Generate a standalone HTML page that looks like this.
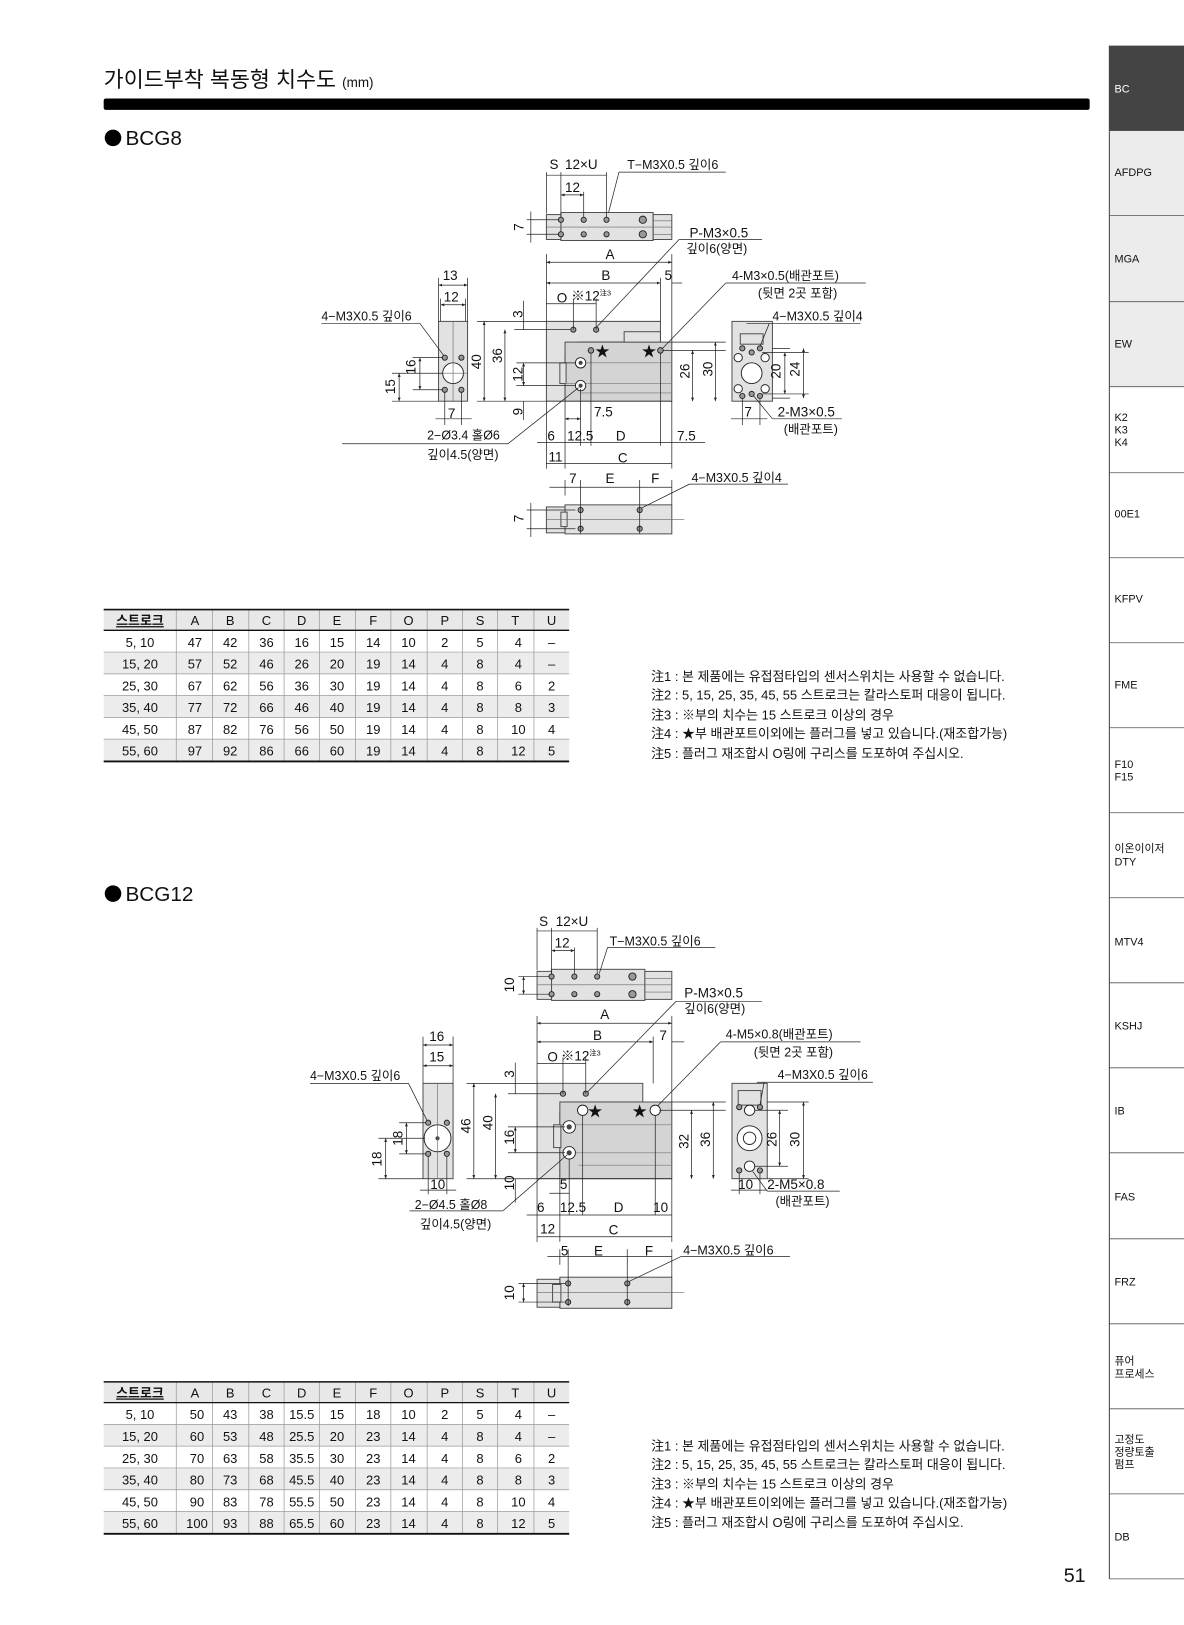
<!DOCTYPE html>
<html><head><meta charset="utf-8"><style>
html,body{margin:0;padding:0;background:#fff}
svg{display:block}
text{font-family:"Liberation Sans","Noto Sans CJK KR",sans-serif;fill:#111}
.t{font-size:13px}
.s{font-size:12px}
.d{stroke:#222;stroke-width:0.7;fill:none}
.b{fill:#e2e2e2;stroke:#444;stroke-width:0.9}
.b2{fill:#d4d4d4;stroke:#444;stroke-width:0.9}
.h{fill:#999;stroke:#222;stroke-width:0.9}
.hw{fill:#fff;stroke:#222;stroke-width:0.9}
.tb{font-size:12.5px;text-anchor:middle}
.sb{font-size:10.5px}
</style></head><body>
<svg width="1184" height="1625" viewBox="0 0 1142 1567.5" preserveAspectRatio="none" xmlns="http://www.w3.org/2000/svg">
<defs>
<marker id="a" viewBox="0 0 10 10" refX="10" refY="5" markerWidth="5" markerHeight="5" orient="auto-start-reverse"><path d="M0,1 L10,5 L0,9 z" fill="#222"/></marker>
</defs>

<!-- Header -->
<text x="100" y="84" style="font-size:21px">가이드부착 복동형 치수도 <tspan style="font-size:13px">(mm)</tspan></text>
<rect x="100" y="95" width="951" height="11" rx="2" fill="#000"/>
<circle cx="109" cy="133" r="8" fill="#000"/>
<text x="121" y="140" style="font-size:20px">BCG8</text>
<circle cx="109" cy="862" r="8" fill="#000"/>
<text x="121" y="869" style="font-size:20px">BCG12</text>

<!-- Sidebar -->
<g>
<rect x="1070" y="44" width="72" height="82" fill="#444"/>
<rect x="1070" y="126" width="72" height="247" fill="#ececec"/>
<line x1="1070" y1="44" x2="1070" y2="1523" stroke="#444" stroke-width="1"/>
<g stroke="#555" stroke-width="0.8">
<line x1="1070" y1="126" x2="1142" y2="126"/><line x1="1070" y1="208" x2="1142" y2="208"/><line x1="1070" y1="291" x2="1142" y2="291"/><line x1="1070" y1="373" x2="1142" y2="373"/><line x1="1070" y1="456" x2="1142" y2="456"/><line x1="1070" y1="538" x2="1142" y2="538"/><line x1="1070" y1="620" x2="1142" y2="620"/><line x1="1070" y1="702" x2="1142" y2="702"/><line x1="1070" y1="784" x2="1142" y2="784"/><line x1="1070" y1="866" x2="1142" y2="866"/><line x1="1070" y1="948" x2="1142" y2="948"/><line x1="1070" y1="1030" x2="1142" y2="1030"/><line x1="1070" y1="1112" x2="1142" y2="1112"/><line x1="1070" y1="1195" x2="1142" y2="1195"/><line x1="1070" y1="1277" x2="1142" y2="1277"/><line x1="1070" y1="1359" x2="1142" y2="1359"/><line x1="1070" y1="1441" x2="1142" y2="1441"/><line x1="1070" y1="1523" x2="1142" y2="1523"/>
</g>
<g class="sb">
<text x="1075" y="89" style="fill:#fff;font-size:10.5px">BC</text>
<text x="1075" y="170" class="sb">AFDPG</text>
<text x="1075" y="253" class="sb">MGA</text>
<text x="1075" y="335" class="sb">EW</text>
<text x="1075" y="406" class="sb">K2</text><text x="1075" y="418" class="sb">K3</text><text x="1075" y="430" class="sb">K4</text>
<text x="1075" y="499" class="sb">00E1</text>
<text x="1075" y="581" class="sb">KFPV</text>
<text x="1075" y="664" class="sb">FME</text>
<text x="1075" y="741" class="sb">F10</text><text x="1075" y="753" class="sb">F15</text>
<text x="1075" y="822" class="sb">이온이이저</text><text x="1075" y="835" class="sb">DTY</text>
<text x="1075" y="912" class="sb">MTV4</text>
<text x="1075" y="993" class="sb">KSHJ</text>
<text x="1075" y="1075" class="sb">IB</text>
<text x="1075" y="1158" class="sb">FAS</text>
<text x="1075" y="1240" class="sb">FRZ</text>
<text x="1075" y="1316" class="sb">퓨어</text><text x="1075" y="1329" class="sb">프로세스</text>
<text x="1075" y="1392" class="sb">고정도</text><text x="1075" y="1404" class="sb">정량토출</text><text x="1075" y="1416" class="sb">펌프</text>
<text x="1075" y="1486" class="sb">DB</text>
</g>
</g>
<text x="1026" y="1526" style="font-size:19px">51</text>

<!-- TABLE 1 -->
<g id="tbl1">
<rect x="100" y="588" width="449" height="20" fill="#e8e8e8"/>
<rect x="100" y="629" width="449" height="21" fill="#ececec"/>
<rect x="100" y="671" width="449" height="21" fill="#ececec"/>
<rect x="100" y="713" width="449" height="21" fill="#ececec"/>
<g stroke="#999" stroke-width="0.7">
<line x1="170" y1="588" x2="170" y2="734"/><line x1="205" y1="588" x2="205" y2="734"/><line x1="240" y1="588" x2="240" y2="734"/><line x1="274" y1="588" x2="274" y2="734"/><line x1="308" y1="588" x2="308" y2="734"/><line x1="343" y1="588" x2="343" y2="734"/><line x1="377" y1="588" x2="377" y2="734"/><line x1="412" y1="588" x2="412" y2="734"/><line x1="446" y1="588" x2="446" y2="734"/><line x1="480" y1="588" x2="480" y2="734"/><line x1="515" y1="588" x2="515" y2="734"/>
<line x1="100" y1="629" x2="549" y2="629"/><line x1="100" y1="650" x2="549" y2="650"/><line x1="100" y1="671" x2="549" y2="671"/><line x1="100" y1="692" x2="549" y2="692"/><line x1="100" y1="713" x2="549" y2="713"/>
</g>
<line x1="100" y1="588" x2="549" y2="588" stroke="#111" stroke-width="1.5"/>
<line x1="100" y1="608" x2="549" y2="608" stroke="#111" stroke-width="1.3"/>
<line x1="100" y1="734.5" x2="549" y2="734.5" stroke="#111" stroke-width="1.8"/>
<g class="tb">
<text x="135" y="603" class="tb" style="text-decoration:underline;font-weight:bold">스트로크</text><text x="188" y="603" class="tb">A</text><text x="222" y="603" class="tb">B</text><text x="257" y="603" class="tb">C</text><text x="291" y="603" class="tb">D</text><text x="325" y="603" class="tb">E</text><text x="360" y="603" class="tb">F</text><text x="394" y="603" class="tb">O</text><text x="429" y="603" class="tb">P</text><text x="463" y="603" class="tb">S</text><text x="497" y="603" class="tb">T</text><text x="532" y="603" class="tb">U</text>
</g>
<g id="r1"></g>
</g>
<g class="tb">
<!-- rows table1 -->
<text x="135" y="624" class="tb">5, 10</text><text x="188" y="624" class="tb">47</text><text x="222" y="624" class="tb">42</text><text x="257" y="624" class="tb">36</text><text x="291" y="624" class="tb">16</text><text x="325" y="624" class="tb">15</text><text x="360" y="624" class="tb">14</text><text x="394" y="624" class="tb">10</text><text x="429" y="624" class="tb">2</text><text x="463" y="624" class="tb">5</text><text x="500" y="624" class="tb">4</text><text x="532" y="624" class="tb">–</text>
<text x="135" y="645" class="tb">15, 20</text><text x="188" y="645" class="tb">57</text><text x="222" y="645" class="tb">52</text><text x="257" y="645" class="tb">46</text><text x="291" y="645" class="tb">26</text><text x="325" y="645" class="tb">20</text><text x="360" y="645" class="tb">19</text><text x="394" y="645" class="tb">14</text><text x="429" y="645" class="tb">4</text><text x="463" y="645" class="tb">8</text><text x="500" y="645" class="tb">4</text><text x="532" y="645" class="tb">–</text>
<text x="135" y="666" class="tb">25, 30</text><text x="188" y="666" class="tb">67</text><text x="222" y="666" class="tb">62</text><text x="257" y="666" class="tb">56</text><text x="291" y="666" class="tb">36</text><text x="325" y="666" class="tb">30</text><text x="360" y="666" class="tb">19</text><text x="394" y="666" class="tb">14</text><text x="429" y="666" class="tb">4</text><text x="463" y="666" class="tb">8</text><text x="500" y="666" class="tb">6</text><text x="532" y="666" class="tb">2</text>
<text x="135" y="687" class="tb">35, 40</text><text x="188" y="687" class="tb">77</text><text x="222" y="687" class="tb">72</text><text x="257" y="687" class="tb">66</text><text x="291" y="687" class="tb">46</text><text x="325" y="687" class="tb">40</text><text x="360" y="687" class="tb">19</text><text x="394" y="687" class="tb">14</text><text x="429" y="687" class="tb">4</text><text x="463" y="687" class="tb">8</text><text x="500" y="687" class="tb">8</text><text x="532" y="687" class="tb">3</text>
<text x="135" y="708" class="tb">45, 50</text><text x="188" y="708" class="tb">87</text><text x="222" y="708" class="tb">82</text><text x="257" y="708" class="tb">76</text><text x="291" y="708" class="tb">56</text><text x="325" y="708" class="tb">50</text><text x="360" y="708" class="tb">19</text><text x="394" y="708" class="tb">14</text><text x="429" y="708" class="tb">4</text><text x="463" y="708" class="tb">8</text><text x="500" y="708" class="tb">10</text><text x="532" y="708" class="tb">4</text>
<text x="135" y="729" class="tb">55, 60</text><text x="188" y="729" class="tb">97</text><text x="222" y="729" class="tb">92</text><text x="257" y="729" class="tb">86</text><text x="291" y="729" class="tb">66</text><text x="325" y="729" class="tb">60</text><text x="360" y="729" class="tb">19</text><text x="394" y="729" class="tb">14</text><text x="429" y="729" class="tb">4</text><text x="463" y="729" class="tb">8</text><text x="500" y="729" class="tb">12</text><text x="532" y="729" class="tb">5</text>
</g>

<!-- TABLE 2 -->
<g transform="translate(0,745)">
<rect x="100" y="588" width="449" height="20" fill="#e8e8e8"/>
<rect x="100" y="629" width="449" height="21" fill="#ececec"/>
<rect x="100" y="671" width="449" height="21" fill="#ececec"/>
<rect x="100" y="713" width="449" height="21" fill="#ececec"/>
<g stroke="#999" stroke-width="0.7">
<line x1="170" y1="588" x2="170" y2="734"/><line x1="205" y1="588" x2="205" y2="734"/><line x1="240" y1="588" x2="240" y2="734"/><line x1="274" y1="588" x2="274" y2="734"/><line x1="308" y1="588" x2="308" y2="734"/><line x1="343" y1="588" x2="343" y2="734"/><line x1="377" y1="588" x2="377" y2="734"/><line x1="412" y1="588" x2="412" y2="734"/><line x1="446" y1="588" x2="446" y2="734"/><line x1="480" y1="588" x2="480" y2="734"/><line x1="515" y1="588" x2="515" y2="734"/>
<line x1="100" y1="629" x2="549" y2="629"/><line x1="100" y1="650" x2="549" y2="650"/><line x1="100" y1="671" x2="549" y2="671"/><line x1="100" y1="692" x2="549" y2="692"/><line x1="100" y1="713" x2="549" y2="713"/>
</g>
<line x1="100" y1="588" x2="549" y2="588" stroke="#111" stroke-width="1.5"/>
<line x1="100" y1="608" x2="549" y2="608" stroke="#111" stroke-width="1.3"/>
<line x1="100" y1="734.5" x2="549" y2="734.5" stroke="#111" stroke-width="1.8"/>
<text x="135" y="603" class="tb" style="text-decoration:underline;font-weight:bold">스트로크</text><text x="188" y="603" class="tb">A</text><text x="222" y="603" class="tb">B</text><text x="257" y="603" class="tb">C</text><text x="291" y="603" class="tb">D</text><text x="325" y="603" class="tb">E</text><text x="360" y="603" class="tb">F</text><text x="394" y="603" class="tb">O</text><text x="429" y="603" class="tb">P</text><text x="463" y="603" class="tb">S</text><text x="497" y="603" class="tb">T</text><text x="532" y="603" class="tb">U</text>
<text x="135" y="624" class="tb">5, 10</text><text x="190" y="624" class="tb">50</text><text x="222" y="624" class="tb">43</text><text x="257" y="624" class="tb">38</text><text x="291" y="624" class="tb">15.5</text><text x="325" y="624" class="tb">15</text><text x="360" y="624" class="tb">18</text><text x="394" y="624" class="tb">10</text><text x="429" y="624" class="tb">2</text><text x="463" y="624" class="tb">5</text><text x="500" y="624" class="tb">4</text><text x="532" y="624" class="tb">–</text>
<text x="135" y="645" class="tb">15, 20</text><text x="190" y="645" class="tb">60</text><text x="222" y="645" class="tb">53</text><text x="257" y="645" class="tb">48</text><text x="291" y="645" class="tb">25.5</text><text x="325" y="645" class="tb">20</text><text x="360" y="645" class="tb">23</text><text x="394" y="645" class="tb">14</text><text x="429" y="645" class="tb">4</text><text x="463" y="645" class="tb">8</text><text x="500" y="645" class="tb">4</text><text x="532" y="645" class="tb">–</text>
<text x="135" y="666" class="tb">25, 30</text><text x="190" y="666" class="tb">70</text><text x="222" y="666" class="tb">63</text><text x="257" y="666" class="tb">58</text><text x="291" y="666" class="tb">35.5</text><text x="325" y="666" class="tb">30</text><text x="360" y="666" class="tb">23</text><text x="394" y="666" class="tb">14</text><text x="429" y="666" class="tb">4</text><text x="463" y="666" class="tb">8</text><text x="500" y="666" class="tb">6</text><text x="532" y="666" class="tb">2</text>
<text x="135" y="687" class="tb">35, 40</text><text x="190" y="687" class="tb">80</text><text x="222" y="687" class="tb">73</text><text x="257" y="687" class="tb">68</text><text x="291" y="687" class="tb">45.5</text><text x="325" y="687" class="tb">40</text><text x="360" y="687" class="tb">23</text><text x="394" y="687" class="tb">14</text><text x="429" y="687" class="tb">4</text><text x="463" y="687" class="tb">8</text><text x="500" y="687" class="tb">8</text><text x="532" y="687" class="tb">3</text>
<text x="135" y="708" class="tb">45, 50</text><text x="190" y="708" class="tb">90</text><text x="222" y="708" class="tb">83</text><text x="257" y="708" class="tb">78</text><text x="291" y="708" class="tb">55.5</text><text x="325" y="708" class="tb">50</text><text x="360" y="708" class="tb">23</text><text x="394" y="708" class="tb">14</text><text x="429" y="708" class="tb">4</text><text x="463" y="708" class="tb">8</text><text x="500" y="708" class="tb">10</text><text x="532" y="708" class="tb">4</text>
<text x="135" y="729" class="tb">55, 60</text><text x="190" y="729" class="tb">100</text><text x="222" y="729" class="tb">93</text><text x="257" y="729" class="tb">88</text><text x="291" y="729" class="tb">65.5</text><text x="325" y="729" class="tb">60</text><text x="360" y="729" class="tb">23</text><text x="394" y="729" class="tb">14</text><text x="429" y="729" class="tb">4</text><text x="463" y="729" class="tb">8</text><text x="500" y="729" class="tb">12</text><text x="532" y="729" class="tb">5</text>
</g>

<!-- NOTES -->
<g style="font-size:12.5px">
<text x="628" y="657" style="font-size:12.5px">注1 : 본 제품에는 유접점타입의 센서스위치는 사용할 수 없습니다.</text>
<text x="628" y="675" style="font-size:12.5px">注2 : 5, 15, 25, 35, 45, 55 스트로크는 칼라스토퍼 대응이 됩니다.</text>
<text x="628" y="694" style="font-size:12.5px">注3 : ※부의 치수는 15 스트로크 이상의 경우</text>
<text x="628" y="712" style="font-size:12.5px">注4 : ★부 배관포트이외에는 플러그를 넣고 있습니다.(재조합가능)</text>
<text x="628" y="731" style="font-size:12.5px">注5 : 플러그 재조합시 O링에 구리스를 도포하여 주십시오.</text>
<text x="628" y="1399" style="font-size:12.5px">注1 : 본 제품에는 유접점타입의 센서스위치는 사용할 수 없습니다.</text>
<text x="628" y="1417" style="font-size:12.5px">注2 : 5, 15, 25, 35, 45, 55 스트로크는 칼라스토퍼 대응이 됩니다.</text>
<text x="628" y="1436" style="font-size:12.5px">注3 : ※부의 치수는 15 스트로크 이상의 경우</text>
<text x="628" y="1454" style="font-size:12.5px">注4 : ★부 배관포트이외에는 플러그를 넣고 있습니다.(재조합가능)</text>
<text x="628" y="1473" style="font-size:12.5px">注5 : 플러그 재조합시 O링에 구리스를 도포하여 주십시오.</text>
</g>

<!-- DRAWING 1 (BCG8) -->
<g>
<!-- top view -->
<rect x="541" y="205" width="89" height="27" class="b"/>
<rect x="527" y="207" width="14" height="24" class="b"/>
<rect x="630" y="207" width="18" height="24" class="b"/>
<line x1="527" y1="219" x2="648" y2="219" stroke="#666" stroke-width="0.6"/>
<line x1="630" y1="213" x2="648" y2="213" stroke="#666" stroke-width="0.6"/>
<line x1="630" y1="226" x2="648" y2="226" stroke="#666" stroke-width="0.6"/>
<g class="h"><circle cx="541" cy="212" r="2.5"/><circle cx="563" cy="212" r="2.5"/><circle cx="585" cy="212" r="2.5"/><circle cx="541" cy="226" r="2.5"/><circle cx="563" cy="226" r="2.5"/><circle cx="585" cy="226" r="2.5"/><circle cx="620" cy="212" r="3.5"/><circle cx="620" cy="226" r="3.5"/></g>
<g class="d"><line x1="527" y1="166" x2="527" y2="206"/><line x1="541" y1="166" x2="541" y2="210"/><line x1="563" y1="185" x2="563" y2="210"/><line x1="585" y1="166" x2="585" y2="210"/>
<line x1="527" y1="169" x2="585" y2="169"/><line x1="541" y1="188" x2="563" y2="188" marker-start="url(#a)" marker-end="url(#a)"/>
<line x1="597" y1="166" x2="700" y2="166"/><line x1="597" y1="166" x2="587" y2="205"/>
<line x1="508" y1="212" x2="539" y2="212"/><line x1="508" y1="226" x2="539" y2="226"/><line x1="512" y1="204" x2="512" y2="234"/></g>
<text x="530" y="163" class="t">S</text><text x="545" y="163" class="t">12×U</text><text x="605" y="163" class="s">T−M3X0.5 깊이6</text>
<text x="545" y="185" class="t">12</text>
<text x="505" y="219" class="t" transform="rotate(-90 505 219)" text-anchor="middle">7</text>

<!-- side view -->
<path d="M527,310 H637 V330 H560 Q545,330 545,345 V387 H527 Z" class="b"/>
<rect x="545" y="330" width="103" height="57" class="b2"/>
<rect x="602" y="320" width="35" height="10" class="b"/>
<rect x="540" y="350" width="6" height="20" class="b"/>
<g stroke="#777" stroke-width="0.6"><line x1="545" y1="350" x2="648" y2="350"/><line x1="545" y1="370" x2="648" y2="370"/><line x1="560" y1="379" x2="648" y2="379"/></g>
<g class="h"><circle cx="553" cy="318" r="2.5"/><circle cx="575" cy="318" r="2.5"/><circle cx="570" cy="338" r="2.7"/><circle cx="637" cy="338" r="2.7"/></g>
<circle cx="560" cy="350" r="5" class="hw"/><circle cx="560" cy="350" r="2" fill="#444"/>
<circle cx="560" cy="372" r="5" class="hw"/><circle cx="560" cy="372" r="2" fill="#444"/>
<text x="574" y="344" style="font-size:14px">★</text><text x="619" y="344" style="font-size:14px">★</text>
<g class="d">
<line x1="527" y1="245" x2="527" y2="310"/><line x1="648" y1="245" x2="648" y2="330"/><line x1="637" y1="268" x2="637" y2="310"/>
<line x1="527" y1="253" x2="648" y2="253" marker-start="url(#a)" marker-end="url(#a)"/>
<line x1="527" y1="273" x2="637" y2="273" marker-start="url(#a)" marker-end="url(#a)"/>
<line x1="648" y1="273" x2="658" y2="273"/>
<line x1="527" y1="293" x2="575" y2="293"/><line x1="553" y1="288" x2="553" y2="318"/><line x1="575" y1="288" x2="575" y2="318"/>
<line x1="496" y1="318" x2="550" y2="318"/><line x1="505" y1="290" x2="505" y2="318"/>
<line x1="460" y1="310" x2="527" y2="310"/><line x1="460" y1="387" x2="648" y2="387"/>
<line x1="467" y1="310" x2="467" y2="387" marker-start="url(#a)" marker-end="url(#a)"/>
<line x1="487" y1="318" x2="487" y2="387" marker-start="url(#a)" marker-end="url(#a)"/>
<line x1="498" y1="350" x2="555" y2="350"/><line x1="498" y1="372" x2="555" y2="372"/>
<line x1="505" y1="350" x2="505" y2="372" marker-start="url(#a)" marker-end="url(#a)"/>
<line x1="505" y1="387" x2="505" y2="405"/>
<line x1="640" y1="338" x2="700" y2="338"/><line x1="648" y1="330" x2="700" y2="330"/>
<line x1="668" y1="338" x2="668" y2="387" marker-start="url(#a)" marker-end="url(#a)"/>
<line x1="690" y1="330" x2="690" y2="387" marker-start="url(#a)" marker-end="url(#a)"/>
<line x1="527" y1="387" x2="527" y2="452"/><line x1="545" y1="387" x2="545" y2="452"/><line x1="648" y1="387" x2="648" y2="452"/>
<line x1="560" y1="375" x2="560" y2="430"/><line x1="570" y1="341" x2="570" y2="430"/><line x1="637" y1="341" x2="637" y2="430"/>
<line x1="545" y1="404" x2="560" y2="404" marker-start="url(#a)" marker-end="url(#a)"/>
<line x1="518" y1="427" x2="680" y2="427"/>
<line x1="527" y1="447" x2="648" y2="447"/>
<!-- leaders -->
<line x1="655" y1="231" x2="735" y2="231"/><line x1="655" y1="231" x2="575" y2="316"/>
<line x1="700" y1="273" x2="835" y2="273"/><line x1="700" y1="273" x2="639" y2="336"/>
<line x1="330" y1="428" x2="490" y2="428"/><line x1="490" y1="428" x2="558" y2="374"/>
</g>
<text x="584" y="250" class="t">A</text><text x="580" y="270" class="t">B</text><text x="641" y="270" class="t">5</text>
<text x="537" y="292" class="t">O</text><text x="551" y="290" class="t">※12<tspan style="font-size:7px" dy="-5">注3</tspan></text>
<text x="504" y="303" class="t" transform="rotate(-90 504 303)" text-anchor="middle">3</text>
<text x="464" y="349" class="t" transform="rotate(-90 464 349)" text-anchor="middle">40</text>
<text x="484" y="343" class="t" transform="rotate(-90 484 343)" text-anchor="middle">36</text>
<text x="504" y="361" class="t" transform="rotate(-90 504 361)" text-anchor="middle">12</text>
<text x="504" y="397" class="t" transform="rotate(-90 504 397)" text-anchor="middle">9</text>
<text x="665" y="358" class="t" transform="rotate(-90 665 358)" text-anchor="middle">26</text>
<text x="687" y="356" class="t" transform="rotate(-90 687 356)" text-anchor="middle">30</text>
<text x="573" y="402" class="t">7.5</text>
<text x="528" y="425" class="t">6</text><text x="547" y="425" class="t">12.5</text><text x="594" y="425" class="t">D</text><text x="653" y="425" class="t">7.5</text>
<text x="529" y="445" class="t">11</text><text x="596" y="446" class="t">C</text>
<text x="665" y="229" class="t">P-M3×0.5</text><text x="662" y="244" class="s">깊이6(양면)</text>
<text x="706" y="270" class="s">4-M3×0.5(배관포트)</text><text x="731" y="287" class="s">(뒷면 2곳 포함)</text>
<text x="412" y="424" class="s">2−Ø3.4 홀Ø6</text><text x="412" y="443" class="s">깊이4.5(양면)</text>

<!-- bottom view -->
<rect x="545" y="487" width="103" height="28" class="b"/>
<rect x="527" y="489" width="18" height="25" class="b"/>
<rect x="541" y="494" width="6" height="14" class="b"/>
<line x1="527" y1="501" x2="660" y2="501" stroke="#666" stroke-width="0.6"/>
<g class="h"><circle cx="560" cy="492" r="2.5"/><circle cx="617" cy="492" r="2.5"/><circle cx="560" cy="510" r="2.5"/><circle cx="617" cy="510" r="2.5"/></g>
<g class="d"><line x1="530" y1="470" x2="648" y2="470"/><line x1="545" y1="463" x2="545" y2="478"/><line x1="560" y1="463" x2="560" y2="515"/><line x1="617" y1="463" x2="617" y2="515"/><line x1="648" y1="463" x2="648" y2="487"/>
<line x1="508" y1="492" x2="555" y2="492"/><line x1="508" y1="510" x2="555" y2="510"/><line x1="512" y1="485" x2="512" y2="518"/>
<line x1="665" y1="467" x2="760" y2="467"/><line x1="665" y1="467" x2="619" y2="490"/></g>
<text x="549" y="466" class="t">7</text><text x="584" y="466" class="t">E</text><text x="628" y="466" class="t">F</text>
<text x="667" y="465" class="s">4−M3X0.5 깊이4</text>
<text x="505" y="500" class="t" transform="rotate(-90 505 500)" text-anchor="middle">7</text>

<!-- left end view -->
<rect x="423" y="310" width="28" height="77" class="b"/>
<circle cx="437" cy="360" r="10" class="hw"/>
<g stroke="#666" stroke-width="0.6"><line x1="437" y1="310" x2="437" y2="387"/><line x1="423" y1="360" x2="451" y2="360"/></g>
<g class="h"><circle cx="429" cy="345" r="2.5"/><circle cx="445" cy="345" r="2.5"/><circle cx="429" cy="376" r="2.5"/><circle cx="445" cy="376" r="2.5"/></g>
<g class="d"><line x1="423" y1="268" x2="423" y2="310"/><line x1="451" y1="268" x2="451" y2="310"/><line x1="425" y1="288" x2="425" y2="310"/><line x1="449" y1="288" x2="449" y2="310"/>
<line x1="423" y1="275" x2="451" y2="275" marker-start="url(#a)" marker-end="url(#a)"/><line x1="425" y1="294" x2="449" y2="294" marker-start="url(#a)" marker-end="url(#a)"/>
<line x1="310" y1="312" x2="405" y2="312"/><line x1="405" y1="312" x2="428" y2="343"/>
<line x1="398" y1="345" x2="427" y2="345"/><line x1="398" y1="376" x2="427" y2="376"/><line x1="405" y1="345" x2="405" y2="376" marker-start="url(#a)" marker-end="url(#a)"/>
<line x1="378" y1="360" x2="427" y2="360"/><line x1="378" y1="387" x2="423" y2="387"/><line x1="385" y1="360" x2="385" y2="387" marker-start="url(#a)" marker-end="url(#a)"/>
<line x1="429" y1="378" x2="429" y2="410"/><line x1="445" y1="378" x2="445" y2="410"/><line x1="420" y1="404" x2="455" y2="404"/></g>
<text x="427" y="270" class="t">13</text><text x="428" y="291" class="t">12</text>
<text x="310" y="309" class="s">4−M3X0.5 깊이6</text>
<text x="401" y="354" class="t" transform="rotate(-90 401 354)" text-anchor="middle">16</text>
<text x="381" y="373" class="t" transform="rotate(-90 381 373)" text-anchor="middle">15</text>
<text x="432" y="403" class="t">7</text>

<!-- right end view -->
<rect x="706" y="310" width="39" height="77" class="b"/>
<rect x="714" y="322" width="22" height="10" class="b"/>
<circle cx="725" cy="360" r="10" class="hw"/>
<g class="hw"><circle cx="712" cy="345" r="4"/><circle cx="738" cy="345" r="4"/><circle cx="712" cy="375" r="4"/><circle cx="738" cy="375" r="4"/></g>
<g class="h"><circle cx="716" cy="336" r="2.5"/><circle cx="733" cy="336" r="2.5"/><circle cx="716" cy="382" r="2.5"/><circle cx="733" cy="382" r="2.5"/><circle cx="725" cy="340" r="2.5"/><circle cx="725" cy="380" r="2.5"/></g>
<g class="d"><line x1="720" y1="312" x2="830" y2="312"/><line x1="742" y1="312" x2="733" y2="334"/>
<line x1="735" y1="340" x2="780" y2="340"/><line x1="735" y1="380" x2="780" y2="380"/><line x1="745" y1="336" x2="762" y2="336"/><line x1="745" y1="384" x2="762" y2="384"/>
<line x1="757" y1="340" x2="757" y2="380" marker-start="url(#a)" marker-end="url(#a)"/><line x1="775" y1="336" x2="775" y2="384" marker-start="url(#a)" marker-end="url(#a)"/>
<line x1="716" y1="385" x2="716" y2="410"/><line x1="733" y1="385" x2="733" y2="410"/><line x1="705" y1="404" x2="740" y2="404"/>
<line x1="745" y1="404" x2="812" y2="404"/><line x1="745" y1="404" x2="727" y2="382"/></g>
<text x="745" y="309" class="s">4−M3X0.5 깊이4</text>
<text x="753" y="358" class="t" transform="rotate(-90 753 358)" text-anchor="middle">20</text>
<text x="771" y="356" class="t" transform="rotate(-90 771 356)" text-anchor="middle">24</text>
<text x="718" y="402" class="t">7</text>
<text x="750" y="402" class="t">2-M3×0.5</text><text x="756" y="418" class="s">(배관포트)</text>
</g>

<!-- DRAWING 2 (BCG12) -->
<g>
<!-- top view -->
<rect x="532" y="935" width="90" height="30" class="b"/>
<rect x="518" y="937" width="14" height="27" class="b"/>
<rect x="622" y="937" width="26" height="27" class="b"/>
<line x1="518" y1="950" x2="648" y2="950" stroke="#666" stroke-width="0.6"/>
<line x1="622" y1="944" x2="648" y2="944" stroke="#666" stroke-width="0.6"/>
<line x1="622" y1="957" x2="648" y2="957" stroke="#666" stroke-width="0.6"/>
<g class="h"><circle cx="532" cy="942" r="2.5"/><circle cx="554" cy="942" r="2.5"/><circle cx="576" cy="942" r="2.5"/><circle cx="532" cy="959" r="2.5"/><circle cx="554" cy="959" r="2.5"/><circle cx="576" cy="959" r="2.5"/><circle cx="610" cy="942" r="3.5"/><circle cx="610" cy="959" r="3.5"/></g>
<g class="d"><line x1="518" y1="895" x2="518" y2="936"/><line x1="532" y1="895" x2="532" y2="940"/><line x1="554" y1="914" x2="554" y2="940"/><line x1="576" y1="895" x2="576" y2="940"/>
<line x1="518" y1="898" x2="576" y2="898"/><line x1="532" y1="917" x2="554" y2="917" marker-start="url(#a)" marker-end="url(#a)"/>
<line x1="586" y1="914" x2="690" y2="914"/><line x1="586" y1="914" x2="578" y2="939"/>
<line x1="500" y1="942" x2="530" y2="942"/><line x1="500" y1="959" x2="530" y2="959"/><line x1="505" y1="942" x2="505" y2="959" marker-start="url(#a)" marker-end="url(#a)"/></g>
<text x="520" y="893" class="t">S</text><text x="536" y="893" class="t">12×U</text><text x="588" y="912" class="s">T−M3X0.5 깊이6</text>
<text x="535" y="914" class="t">12</text>
<text x="496" y="950" class="t" transform="rotate(-90 496 950)" text-anchor="middle">10</text>

<!-- side view -->
<path d="M518,1045 H620 V1063 H550 Q540,1063 540,1073 V1137 H518 Z" class="b"/>
<rect x="540" y="1063" width="108" height="74" class="b2"/>
<rect x="534" y="1085" width="7" height="22" class="b"/>
<g stroke="#777" stroke-width="0.6"><line x1="540" y1="1085" x2="648" y2="1085"/><line x1="540" y1="1112" x2="648" y2="1112"/><line x1="558" y1="1124" x2="648" y2="1124"/></g>
<g class="h"><circle cx="543" cy="1055" r="2.5"/><circle cx="565" cy="1055" r="2.5"/></g>
<circle cx="562" cy="1071" r="5" class="hw"/><circle cx="632" cy="1071" r="5" class="hw"/>
<circle cx="549" cy="1087" r="6" class="hw"/><circle cx="549" cy="1087" r="2.5" fill="#444"/>
<circle cx="549" cy="1112" r="6" class="hw"/><circle cx="549" cy="1112" r="2.5" fill="#444"/>
<text x="567" y="1077" style="font-size:14px">★</text><text x="610" y="1077" style="font-size:14px">★</text>
<g class="d">
<line x1="518" y1="980" x2="518" y2="1045"/><line x1="648" y1="980" x2="648" y2="1063"/><line x1="630" y1="1000" x2="630" y2="1045"/>
<line x1="518" y1="987" x2="648" y2="987" marker-start="url(#a)" marker-end="url(#a)"/>
<line x1="518" y1="1005" x2="630" y2="1005" marker-start="url(#a)" marker-end="url(#a)"/>
<line x1="648" y1="1005" x2="660" y2="1005"/>
<line x1="518" y1="1026" x2="565" y2="1026"/><line x1="543" y1="1020" x2="543" y2="1055"/><line x1="565" y1="1020" x2="565" y2="1055"/>
<line x1="490" y1="1055" x2="540" y2="1055"/><line x1="497" y1="1025" x2="497" y2="1055"/>
<line x1="450" y1="1045" x2="518" y2="1045"/><line x1="450" y1="1137" x2="648" y2="1137"/>
<line x1="457" y1="1045" x2="457" y2="1137" marker-start="url(#a)" marker-end="url(#a)"/>
<line x1="478" y1="1055" x2="478" y2="1137" marker-start="url(#a)" marker-end="url(#a)"/>
<line x1="490" y1="1087" x2="545" y2="1087"/><line x1="490" y1="1112" x2="545" y2="1112"/>
<line x1="497" y1="1087" x2="497" y2="1112" marker-start="url(#a)" marker-end="url(#a)"/>
<line x1="497" y1="1137" x2="497" y2="1160"/>
<line x1="636" y1="1071" x2="700" y2="1071"/><line x1="648" y1="1063" x2="700" y2="1063"/>
<line x1="667" y1="1071" x2="667" y2="1137" marker-start="url(#a)" marker-end="url(#a)"/>
<line x1="688" y1="1063" x2="688" y2="1137" marker-start="url(#a)" marker-end="url(#a)"/>
<line x1="518" y1="1137" x2="518" y2="1198"/><line x1="540" y1="1137" x2="540" y2="1198"/><line x1="648" y1="1137" x2="648" y2="1198"/>
<line x1="549" y1="1118" x2="549" y2="1172"/><line x1="562" y1="1076" x2="562" y2="1172"/><line x1="632" y1="1076" x2="632" y2="1172"/>
<line x1="530" y1="1151" x2="549" y2="1151"/>
<line x1="508" y1="1172" x2="648" y2="1172"/>
<line x1="518" y1="1193" x2="648" y2="1193"/>
<line x1="652" y1="966" x2="735" y2="966"/><line x1="652" y1="966" x2="567" y2="1053"/>
<line x1="695" y1="1005" x2="830" y2="1005"/><line x1="695" y1="1005" x2="634" y2="1067"/>
<line x1="395" y1="1168" x2="485" y2="1168"/><line x1="485" y1="1168" x2="547" y2="1114"/>
</g>
<text x="579" y="983" class="t">A</text><text x="572" y="1003" class="t">B</text><text x="636" y="1003" class="t">7</text>
<text x="528" y="1024" class="t">O</text><text x="541" y="1023" class="t">※12<tspan style="font-size:7px" dy="-5">注3</tspan></text>
<text x="496" y="1036" class="t" transform="rotate(-90 496 1036)" text-anchor="middle">3</text>
<text x="454" y="1086" class="t" transform="rotate(-90 454 1086)" text-anchor="middle">46</text>
<text x="475" y="1083" class="t" transform="rotate(-90 475 1083)" text-anchor="middle">40</text>
<text x="496" y="1097" class="t" transform="rotate(-90 496 1097)" text-anchor="middle">16</text>
<text x="496" y="1141" class="t" transform="rotate(-90 496 1141)" text-anchor="middle">10</text>
<text x="664" y="1101" class="t" transform="rotate(-90 664 1101)" text-anchor="middle">32</text>
<text x="685" y="1099" class="t" transform="rotate(-90 685 1099)" text-anchor="middle">36</text>
<text x="540" y="1147" class="t">5</text>
<text x="518" y="1169" class="t">6</text><text x="540" y="1169" class="t">12.5</text><text x="592" y="1169" class="t">D</text><text x="630" y="1169" class="t">10</text>
<text x="521" y="1190" class="t">12</text><text x="587" y="1191" class="t">C</text>
<text x="660" y="962" class="t">P-M3×0.5</text><text x="660" y="977" class="s">깊이6(양면)</text>
<text x="700" y="1002" class="s">4-M5×0.8(배관포트)</text><text x="727" y="1019" class="s">(뒷면 2곳 포함)</text>
<text x="400" y="1166" class="s">2−Ø4.5 홀Ø8</text><text x="405" y="1185" class="s">깊이4.5(양면)</text>

<!-- bottom view -->
<rect x="540" y="1232" width="108" height="30" class="b"/>
<rect x="518" y="1234" width="22" height="27" class="b"/>
<rect x="533" y="1239" width="8" height="17" class="b"/>
<line x1="518" y1="1247" x2="660" y2="1247" stroke="#666" stroke-width="0.6"/>
<g class="h"><circle cx="548" cy="1238" r="2.5"/><circle cx="605" cy="1238" r="2.5"/><circle cx="548" cy="1256" r="2.5"/><circle cx="605" cy="1256" r="2.5"/></g>
<g class="d"><line x1="528" y1="1212" x2="648" y2="1212"/><line x1="540" y1="1205" x2="540" y2="1220"/><line x1="548" y1="1205" x2="548" y2="1260"/><line x1="605" y1="1205" x2="605" y2="1260"/><line x1="648" y1="1205" x2="648" y2="1232"/>
<line x1="500" y1="1238" x2="545" y2="1238"/><line x1="500" y1="1256" x2="545" y2="1256"/><line x1="505" y1="1238" x2="505" y2="1256" marker-start="url(#a)" marker-end="url(#a)"/>
<line x1="657" y1="1212" x2="762" y2="1212"/><line x1="657" y1="1212" x2="607" y2="1236"/></g>
<text x="541" y="1211" class="t">5</text><text x="573" y="1211" class="t">E</text><text x="622" y="1211" class="t">F</text>
<text x="659" y="1210" class="s">4−M3X0.5 깊이6</text>
<text x="496" y="1247" class="t" transform="rotate(-90 496 1247)" text-anchor="middle">10</text>

<!-- left end view -->
<rect x="408" y="1045" width="29" height="92" class="b"/>
<circle cx="422" cy="1098" r="13" class="hw"/><circle cx="422" cy="1098" r="2" fill="#444"/>
<line x1="422" y1="1045" x2="422" y2="1137" stroke="#666" stroke-width="0.6"/>
<g class="h"><circle cx="413" cy="1083" r="2.5"/><circle cx="431" cy="1083" r="2.5"/><circle cx="413" cy="1113" r="2.5"/><circle cx="431" cy="1113" r="2.5"/></g>
<g class="d"><line x1="408" y1="1000" x2="408" y2="1045"/><line x1="437" y1="1000" x2="437" y2="1045"/>
<line x1="408" y1="1008" x2="437" y2="1008" marker-start="url(#a)" marker-end="url(#a)"/><line x1="408" y1="1028" x2="437" y2="1028" marker-start="url(#a)" marker-end="url(#a)"/>
<line x1="299" y1="1045" x2="394" y2="1045"/><line x1="394" y1="1045" x2="412" y2="1081"/>
<line x1="385" y1="1083" x2="411" y2="1083"/><line x1="385" y1="1113" x2="411" y2="1113"/><line x1="392" y1="1083" x2="392" y2="1113" marker-start="url(#a)" marker-end="url(#a)"/>
<line x1="365" y1="1098" x2="410" y2="1098"/><line x1="365" y1="1137" x2="408" y2="1137"/><line x1="372" y1="1098" x2="372" y2="1137" marker-start="url(#a)" marker-end="url(#a)"/>
<line x1="413" y1="1115" x2="413" y2="1152"/><line x1="431" y1="1115" x2="431" y2="1152"/><line x1="405" y1="1148" x2="440" y2="1148"/></g>
<text x="414" y="1004" class="t">16</text><text x="414" y="1024" class="t">15</text>
<text x="299" y="1042" class="s">4−M3X0.5 깊이6</text>
<text x="388" y="1098" class="t" transform="rotate(-90 388 1098)" text-anchor="middle">18</text>
<text x="368" y="1118" class="t" transform="rotate(-90 368 1118)" text-anchor="middle">18</text>
<text x="415" y="1147" class="t">10</text>

<!-- right end view -->
<rect x="706" y="1045" width="34" height="92" class="b"/>
<rect x="712" y="1052" width="22" height="14" class="b"/>
<circle cx="723" cy="1098" r="12" class="hw"/><circle cx="723" cy="1098" r="6" class="hw"/>
<circle cx="723" cy="1071" r="5" class="hw"/><circle cx="723" cy="1125" r="5" class="hw"/>
<g class="h"><circle cx="713" cy="1068" r="2.5"/><circle cx="733" cy="1068" r="2.5"/><circle cx="713" cy="1129" r="2.5"/><circle cx="733" cy="1129" r="2.5"/></g>
<g class="d"><line x1="730" y1="1044" x2="842" y2="1044"/><line x1="737" y1="1044" x2="733" y2="1066"/>
<line x1="728" y1="1071" x2="760" y2="1071"/><line x1="728" y1="1125" x2="760" y2="1125"/><line x1="740" y1="1063" x2="780" y2="1063"/><line x1="740" y1="1137" x2="780" y2="1137"/>
<line x1="752" y1="1071" x2="752" y2="1125" marker-start="url(#a)" marker-end="url(#a)"/><line x1="775" y1="1063" x2="775" y2="1137" marker-start="url(#a)" marker-end="url(#a)"/>
<line x1="713" y1="1131" x2="713" y2="1152"/><line x1="733" y1="1131" x2="733" y2="1152"/><line x1="705" y1="1148" x2="740" y2="1148"/>
<line x1="740" y1="1149" x2="810" y2="1149"/><line x1="740" y1="1149" x2="726" y2="1130"/></g>
<text x="750" y="1041" class="s">4−M3X0.5 깊이6</text>
<text x="749" y="1099" class="t" transform="rotate(-90 749 1099)" text-anchor="middle">26</text>
<text x="771" y="1099" class="t" transform="rotate(-90 771 1099)" text-anchor="middle">30</text>
<text x="712" y="1147" class="t">10</text>
<text x="740" y="1147" class="t">2-M5×0.8</text><text x="748" y="1163" class="s">(배관포트)</text>
</g>
</svg>
</body></html>
